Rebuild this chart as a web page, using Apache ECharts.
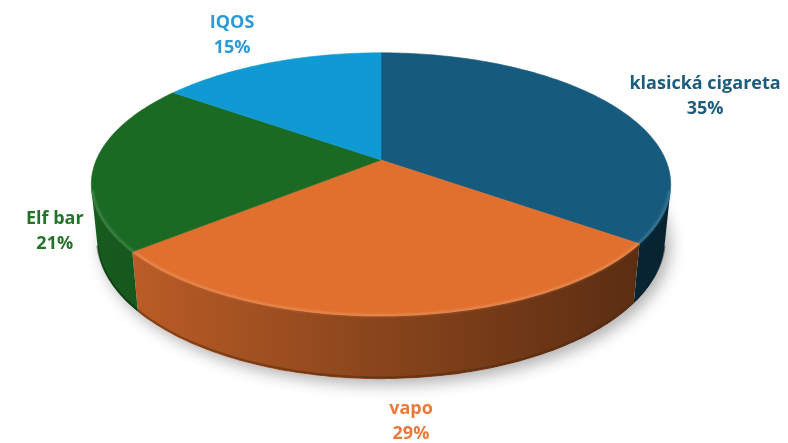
<!DOCTYPE html>
<html>
<head>
<meta charset="utf-8">
<script src="https://cdn.jsdelivr.net/npm/echarts@6/dist/echarts.min.js"></script>
<style>
  html, body { margin: 0; padding: 0; background: #fff; }
  #main { width: 788px; height: 443px; }
</style>
</head>
<body>
<div id="main"></div>
<script>
var categories = ['klasická cigareta', 'vapo', 'Elf bar', 'IQOS'];
var shares = [35, 29, 21, 15];
var percentLabels = ['35%', '29%', '21%', '15%'];

var sliceColors = ['#165b7e', '#e1702e', '#1b6a24', '#0f9ad4'];
var labelColors = ['#1d5c7c', '#e97a3c', '#237329', '#2b9bd6'];
// label nudges (px) from the slice's mid point on the rim
var labelNudge = [[90, -10], [19, 106], [-40, 67], [-38, -27]];

var myChart = echarts.init(document.getElementById('main'));

// perspective view of the pie (pie radius = 1)
var view = { cx: 381, cy: 160, focal: 1378, dist: 4.84, tilt: 26.5 * Math.PI / 180, depth: 0.22 };
var sinA = Math.sin(view.tilt), cosA = Math.cos(view.tilt);

function project(theta, r, yh) {
  var u = r * Math.sin(theta), v = r * Math.cos(theta);
  var yc = v * sinA + yh * cosA;
  var zc = view.dist + v * cosA - yh * sinA;
  return [view.cx + view.focal * u / zc, view.cy - view.focal * yc / zc];
}

function arc(a, b, r, yh) {
  var pts = [];
  var n = Math.max(2, Math.ceil((b - a) / (Math.PI / 180)));
  for (var i = 0; i <= n; i++) {
    pts.push(project(a + (b - a) * i / n, r, yh));
  }
  return pts;
}

function rgb(hex) {
  return [parseInt(hex.substr(1, 2), 16), parseInt(hex.substr(3, 2), 16), parseInt(hex.substr(5, 2), 16)];
}
function shade(hex, f) {
  var c = rgb(hex);
  return 'rgb(' + Math.round(c[0] * f) + ',' + Math.round(c[1] * f) + ',' + Math.round(c[2] * f) + ')';
}
function tint(hex, f) {
  var c = rgb(hex);
  return 'rgb(' + Math.round(c[0] + (255 - c[0]) * f) + ',' + Math.round(c[1] + (255 - c[1]) * f) + ',' + Math.round(c[2] + (255 - c[2]) * f) + ')';
}

// slice angles, clockwise from 12 o'clock
var total = shares.reduce(function (s, v) { return s + v; }, 0);
var startAngles = [], endAngles = [];
var acc = 0;
shares.forEach(function (v) {
  startAngles.push(acc / total * Math.PI * 2);
  acc += v;
  endAngles.push(acc / total * Math.PI * 2);
});

// part of the outer wall facing the camera
var vLim = -1 / (view.dist * cosA);
var visFrom = Math.acos(vLim), visTo = Math.PI * 2 - Math.acos(vLim);
var xLeft = project(Math.PI * 1.5, 1, 0)[0], xRight = project(Math.PI * 0.5, 1, 0)[0];

function renderWall(params, api) {
  var i = params.dataIndex;
  var children = [];
  if (i === 0) {
    // base disc that carries the drop shadow
    children.push({
      type: 'polygon',
      shape: { points: arc(0, Math.PI * 2, 1, -view.depth) },
      style: { fill: '#ffffff', shadowBlur: 16, shadowColor: 'rgba(0,0,0,0.32)', shadowOffsetX: 5, shadowOffsetY: 5 }
    });
  }
  var a = Math.max(startAngles[i], visFrom), b = Math.min(endAngles[i], visTo);
  if (b > a) {
    var top = arc(a, b, 1, 0);
    var bottom = arc(a, b, 1, -view.depth).reverse();
    var base = sliceColors[i];
    children.push({
      type: 'polygon',
      shape: { points: top.concat(bottom) },
      style: {
        fill: new echarts.graphic.LinearGradient(xLeft, 0, xRight, 0, [
          { offset: 0, color: shade(base, 0.86) },
          { offset: 0.45, color: shade(base, 0.63) },
          { offset: 1, color: shade(base, 0.38) }
        ], true)
      }
    });
    // darker lip along the bottom edge
    children.push({
      type: 'polyline',
      shape: { points: arc(a, b, 1, -view.depth * 0.97) },
      style: { stroke: shade(base, 0.35), lineWidth: 2, fill: null, opacity: 0.5 }
    });
  }
  return { type: 'group', children: children };
}

function renderTop(params, api) {
  var i = params.dataIndex;
  var base = sliceColors[i];
  var children = [];
  var pts = [project(0, 0, 0)].concat(arc(startAngles[i], endAngles[i], 1, 0));
  children.push({
    type: 'polygon',
    shape: { points: pts },
    style: { fill: base, stroke: base, lineWidth: 0.6 }
  });
  var a = Math.max(startAngles[i], visFrom), b = Math.min(endAngles[i], visTo);
  if (b > a) {
    // soft bevel highlight on the rim
    children.push({
      type: 'polyline',
      shape: { points: arc(a, b, 0.996, 0) },
      style: { stroke: tint(base, 0.18), lineWidth: 2.5, fill: null, opacity: 0.55, shadowBlur: 3, shadowColor: tint(base, 0.15) }
    });
  }
  var mid = (startAngles[i] + endAngles[i]) / 2;
  var anchor = project(mid, 1, 0);
  children.push({
    type: 'text',
    x: anchor[0] + labelNudge[i][0],
    y: anchor[1] + labelNudge[i][1],
    style: {
      text: categories[i] + '\n' + percentLabels[i],
      fill: labelColors[i],
      font: 'bold 18px "Open Sans", sans-serif',
      align: 'center',
      verticalAlign: 'middle',
      lineHeight: 25
    }
  });
  return { type: 'group', children: children };
}

var option = {
  backgroundColor: '#ffffff',
  animation: false,
  series: [
    {
      type: 'custom',
      coordinateSystem: 'none',
      silent: true,
      z: 1,
      data: shares,
      renderItem: renderWall
    },
    {
      type: 'custom',
      coordinateSystem: 'none',
      z: 2,
      data: shares,
      renderItem: renderTop
    }
  ]
};

myChart.setOption(option);
</script>
</body>
</html>
